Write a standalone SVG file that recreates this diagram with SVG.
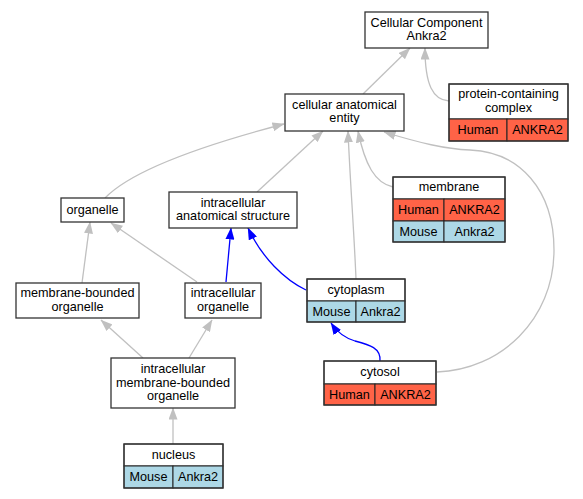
<svg xmlns="http://www.w3.org/2000/svg" width="583" height="499" viewBox="0 0 583 499">
<style>
text{font-family:"Liberation Sans",Arial,sans-serif;font-size:12.67px;fill:#000;text-anchor:middle}
.box{fill:#fff;stroke:#333;stroke-width:1.3}
.hdr{fill:#fff;stroke:#222;stroke-width:1}
.hu{fill:#ff6347;stroke:#222;stroke-width:1}
.mo{fill:#add8e6;stroke:#222;stroke-width:1}
.tbl{fill:none;stroke:#333;stroke-width:1.3}
.e{fill:none;stroke:#c0c0c0;stroke-width:1.3}
.b{fill:none;stroke:#0000ff;stroke-width:1.3}
</style>
<defs>
<marker id="ag" viewBox="0 0 12 9" refX="11.5" refY="4.5" markerWidth="12" markerHeight="9" markerUnits="userSpaceOnUse" orient="auto"><path d="M0,0 L12,4.5 L0,9 z" fill="#c0c0c0"/></marker>
<marker id="ab" viewBox="0 0 12 9" refX="11.5" refY="4.5" markerWidth="12" markerHeight="9" markerUnits="userSpaceOnUse" orient="auto"><path d="M0,0 L12,4.5 L0,9 z" fill="#0000ff"/></marker>
</defs>
<rect width="583" height="499" fill="#fff"/>
<g id="edges">
<path class="e" marker-end="url(#ag)" d="M363,94 L410,48"/>
<path class="e" marker-end="url(#ag)" d="M449,101 C433,100 425,85 425,48"/>
<path class="e" marker-end="url(#ag)" d="M105,198 C130,172 200,146 284,124"/>
<path class="e" marker-end="url(#ag)" d="M257,192 L323,131"/>
<path class="e" marker-end="url(#ag)" d="M356,279 C354,230 350,180 348,131"/>
<path class="e" marker-end="url(#ag)" d="M393,187 C375,183 365,165 358,131"/>
<path class="e" marker-end="url(#ag)" d="M437,372 C500,370 554,320 554,250 C554,190 520,152 470,150 C445,149 420,143 384,132"/>
<path class="e" marker-end="url(#ag)" d="M82,283 L90,222"/>
<path class="e" marker-end="url(#ag)" d="M197,282 L111,223"/>
<path class="e" marker-end="url(#ag)" d="M143,358 L101,320"/>
<path class="e" marker-end="url(#ag)" d="M189,358 L212,320"/>
<path class="e" marker-end="url(#ag)" d="M173,444 L173,408"/>
<path class="b" marker-end="url(#ab)" d="M226,282 L231,228"/>
<path class="b" marker-end="url(#ab)" d="M306,290 C285,280 262,258 248,228"/>
<path class="b" marker-end="url(#ab)" d="M380,361 C381,348 370,345 355,341 C345,338 337,332 331,323"/>
</g>
<g id="cc"><rect class="box" x="365" y="12" width="123" height="36"/><text x="426.5" y="26.5">Cellular Component</text><text x="426.5" y="40">Ankra2</text></g>
<g id="pcc"><rect class="hdr" x="449" y="84" width="119" height="35"/><text x="508.5" y="98">protein-containing</text><text x="508.5" y="111.5">complex</text><rect class="hu" x="449" y="119" width="58" height="22"/><rect class="hu" x="507" y="119" width="61" height="22"/><text x="478" y="134">Human</text><text x="537.5" y="134">ANKRA2</text><rect class="tbl" x="449" y="84" width="119" height="57"/></g>
<g id="cae"><rect class="box" x="285" y="94" width="119" height="37"/><text x="344.5" y="109">cellular anatomical</text><text x="344.5" y="122">entity</text></g>
<g id="membrane"><rect class="hdr" x="393" y="177" width="112" height="22"/><text x="449" y="191">membrane</text><rect class="hu" x="393" y="199" width="51" height="22"/><rect class="hu" x="444" y="199" width="61" height="22"/><text x="418.5" y="214">Human</text><text x="474.5" y="214">ANKRA2</text><rect class="mo" x="393" y="221" width="51" height="21"/><rect class="mo" x="444" y="221" width="61" height="21"/><text x="418.5" y="235.5">Mouse</text><text x="474.5" y="235.5">Ankra2</text><rect class="tbl" x="393" y="177" width="112" height="65"/></g>
<g id="organelle"><rect class="box" x="61" y="198" width="63" height="24"/><text x="92.5" y="214">organelle</text></g>
<g id="ias"><rect class="box" x="169" y="192" width="128" height="36"/><text x="233" y="206.5">intracellular</text><text x="233" y="220">anatomical structure</text></g>
<g id="mbo"><rect class="box" x="16" y="283" width="123" height="35"/><text x="77.5" y="297">membrane-bounded</text><text x="77.5" y="310.5">organelle</text></g>
<g id="io"><rect class="box" x="185" y="283" width="76" height="35"/><text x="223" y="297">intracellular</text><text x="223" y="310.5">organelle</text></g>
<g id="cytoplasm"><rect class="hdr" x="307" y="279" width="98" height="22"/><text x="356" y="293.5">cytoplasm</text><rect class="mo" x="307" y="301" width="49" height="21"/><rect class="mo" x="356" y="301" width="49" height="21"/><text x="331.5" y="316">Mouse</text><text x="380.5" y="316">Ankra2</text><rect class="tbl" x="307" y="279" width="98" height="43"/></g>
<g id="cytosol"><rect class="hdr" x="324" y="361" width="112" height="23"/><text x="380" y="376">cytosol</text><rect class="hu" x="324" y="384" width="51" height="21"/><rect class="hu" x="375" y="384" width="61" height="21"/><text x="349.5" y="398.5">Human</text><text x="405.5" y="398.5">ANKRA2</text><rect class="tbl" x="324" y="361" width="112" height="44"/></g>
<g id="imbo"><rect class="box" x="111" y="358" width="124" height="50"/><text x="173" y="373">intracellular</text><text x="173" y="386.5">membrane-bounded</text><text x="173" y="400">organelle</text></g>
<g id="nucleus"><rect class="hdr" x="124" y="444" width="99" height="22"/><text x="173.5" y="458.5">nucleus</text><rect class="mo" x="124" y="466" width="49" height="22"/><rect class="mo" x="173" y="466" width="50" height="22"/><text x="148.5" y="481">Mouse</text><text x="198" y="481">Ankra2</text><rect class="tbl" x="124" y="444" width="99" height="44"/></g>
</svg>
